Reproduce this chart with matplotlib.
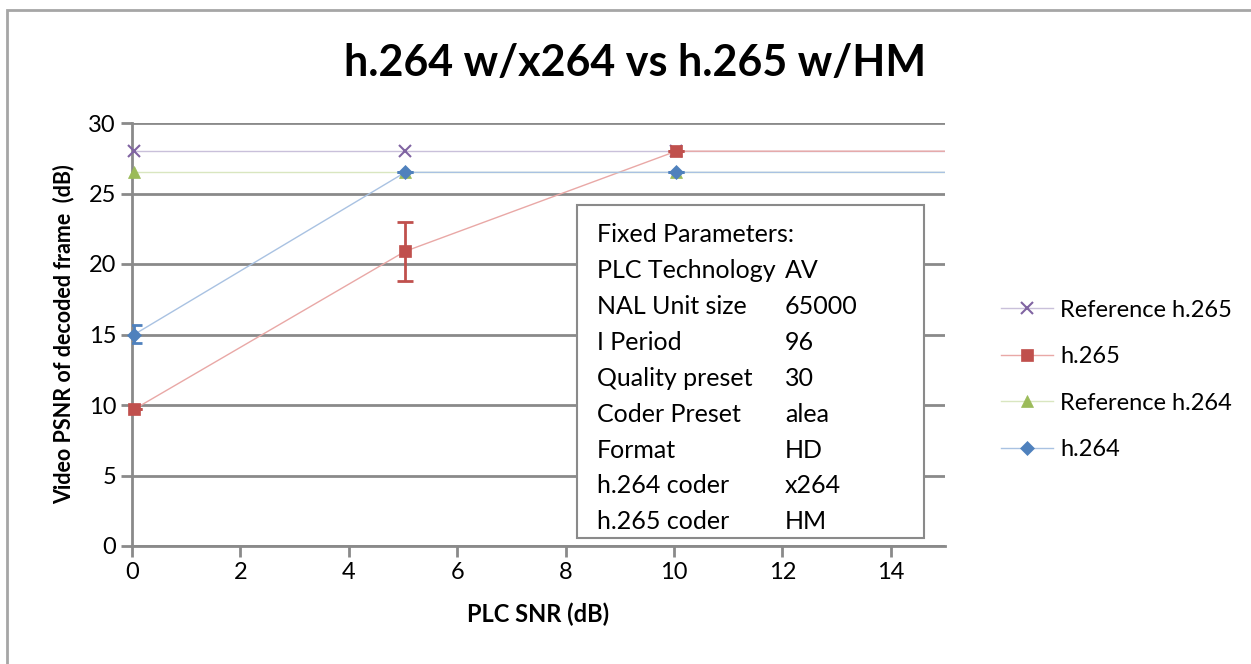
import matplotlib.pyplot as plt
from matplotlib.patches import Rectangle

plt.rcParams['font.family'] = ['Lato', 'DejaVu Sans']

# data
snr = [0.04, 5.04, 10.04, 15.1]
ref_h265 = [28, 28, 28, 28]
h265 = [9.7, 20.9, 28, 28]
h265_err_low = [0, 2.1, 0, 0]
h265_err_high = [0, 2.1, 0, 0]
ref_h264 = [26.5, 26.5, 26.5, 26.5]
h264 = [15.0, 26.5, 26.5, 26.5]
h264_err_low = [0.6, 0, 0, 0]
h264_err_high = [0.7, 0, 0, 0]

param_names = ['PLC Technology', 'NAL Unit size', 'I Period', 'Quality preset',
               'Coder Preset', 'Format', 'h.264 coder', 'h.265 coder']
param_values = ['AV', '65000', '96', '30', 'alea', 'HD', 'x264', 'HM']

fig = plt.figure(figsize=(12.51, 6.64), dpi=100)
# outer chart frame (right and bottom edges fall outside the picture)
fig.patches.append(Rectangle((7 / 1251, -0.1), 1.2, 1 - 10 / 664 + 0.1,
                             transform=fig.transFigure, fill=False,
                             edgecolor='#a6a6a6', linewidth=2))

ax = fig.add_axes([132 / 1251, 118 / 664, 813 / 1251, 423 / 664])

series = [
    ('Reference h.265', ref_h265, None, '#8064A2', '#c9c0da', 'x'),
    ('h.265', h265, (h265_err_low, h265_err_high), '#C0504D', '#e9a8a6', 's'),
    ('Reference h.264', ref_h264, None, '#9BBB59', '#d9e6c0', '^'),
    ('h.264', h264, (h264_err_low, h264_err_high), '#4F81BD', '#a9c2e2', 'D'),
]

handles = []
for name, vals, err, mc, lc, mk in series:
    ms = 8 if mk != 'D' else 7
    mew = 1.5 if mk == 'x' else 0.5
    ax.plot(snr, vals, color=lc, linewidth=1, zorder=3)
    ax.plot(snr[:3], vals[:3], linestyle='none', marker=mk, markersize=ms,
            color=mc, markeredgecolor=mc, markeredgewidth=mew,
            zorder=4, clip_on=False)
    if err is not None:
        ax.errorbar(snr[:3], vals[:3], yerr=[err[0][:3], err[1][:3]], fmt='none',
                    ecolor=mc, elinewidth=2, capsize=6, capthick=2, zorder=4)
    h, = ax.plot([], [], color=lc, linewidth=1, marker=mk, markersize=ms,
                 markerfacecolor=mc, markeredgecolor=mc, markeredgewidth=mew)
    handles.append((h, name))

ax.set_xlim(0, 15)
ax.set_ylim(0, 30)
ax.set_xticks(range(0, 16, 2))
ax.set_yticks(range(0, 31, 5))
ax.grid(axis='y', color='#8a8a8a', linewidth=2)
ax.set_axisbelow(True)
for s in ['top', 'right']:
    ax.spines[s].set_visible(False)
for s in ['left', 'bottom']:
    ax.spines[s].set_color('#8a8a8a')
    ax.spines[s].set_linewidth(2)
ax.tick_params(axis='both', colors='#8a8a8a', labelcolor='black', labelsize=17,
               length=8, width=2)
ax.set_xlabel('PLC SNR (dB)', fontsize=17, fontweight='bold', labelpad=14)
ax.set_ylabel('Video PSNR of decoded frame  (dB)', fontsize=15.5, fontweight='bold', labelpad=10)

fig.text(635 / 1251, 1 - 63 / 664, 'h.264 w/x264 vs h.265 w/HM', fontsize=31,
         fontweight='bold', ha='center', va='center')

# parameter box
fig.patches.append(Rectangle((577 / 1251, 1 - 538 / 664), 347 / 1251, 333 / 664,
                             transform=fig.transFigure, facecolor='white',
                             edgecolor='#8a8a8a', linewidth=1.5, zorder=5))
fig.text(597 / 1251, 1 - 235 / 664, 'Fixed Parameters:', fontsize=18,
         va='center', zorder=6)
for i, (n, v) in enumerate(zip(param_names, param_values)):
    y = 1 - (271 + i * 35.8) / 664
    fig.text(597 / 1251, y, n, fontsize=18, va='center', zorder=6)
    fig.text(785 / 1251, y, v, fontsize=18, va='center', zorder=6)

fig.legend([h for h, _ in handles], [n for _, n in handles],
           loc='center left', bbox_to_anchor=(980 / 1251, 1 - 380 / 664),
           frameon=False, fontsize=17, handlelength=2.2, handletextpad=0.3,
           labelspacing=1.08)

fig.savefig('out.png', dpi=100)
